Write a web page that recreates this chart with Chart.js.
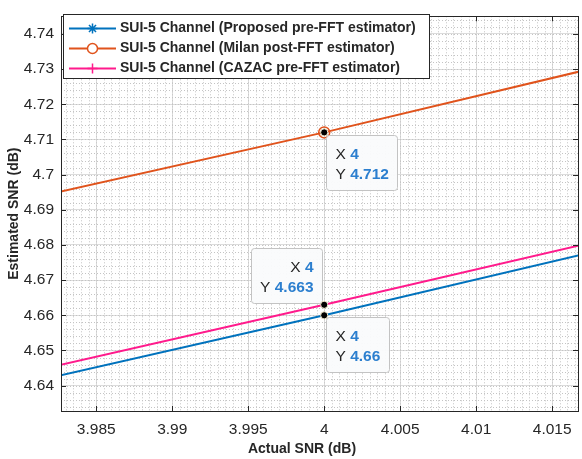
<!DOCTYPE html>
<html>
<head>
<meta charset="utf-8">
<script src="https://cdn.jsdelivr.net/npm/chart.js@4/dist/chart.umd.min.js"></script>
<style>
  html, body { margin: 0; padding: 0; background: #fff; overflow: hidden; }
  #wrap { width: 582px; height: 459px; overflow: hidden; }
</style>
</head>
<body>
<div id="wrap"><canvas id="snrChart" width="585" height="459"></canvas></div>
<script>
// SNR values around 4 dB
var snr = [3, 4, 5];
var proposedEst = [3.677, 4.66, 5.678];
var milanEst = [3.741, 4.712, 5.742];
var cazacEst = [3.680, 4.663, 5.669];

var seriesNames = [
    'SUI-5 Channel (Proposed pre-FFT estimator)',
    'SUI-5 Channel (Milan post-FFT estimator)',
    'SUI-5 Channel (CAZAC pre-FFT estimator)'
];
var seriesColors = ['#0072bd', '#e0531c', '#ff1a8c'];

var xTicks = [3.985, 3.99, 3.995, 4, 4.005, 4.01, 4.015];
var yTicks = [4.64, 4.65, 4.66, 4.67, 4.68, 4.69, 4.7, 4.71, 4.72, 4.73, 4.74];
var xRange = [3.98268, 4.0167];
var yRange = [4.6328, 4.745];

// data tips: dataset index, point index, which side of the point the box goes
var tips = [
    { ds: 1, i: 1, side: 'right', dx: 2, dy: 3 },
    { ds: 2, i: 1, side: 'left', dx: -2, dy: -2 },
    { ds: 0, i: 1, side: 'right', dx: 2, dy: 2 }
];

var FONT = '"Liberation Sans", Arial, Helvetica, sans-serif';
var AXIS_COLOR = '#262626';

function pts(ys) {
    return snr.map(function (x, k) { return { x: x, y: ys[k] }; });
}

function steps(lo, hi, step) {
    var out = [];
    var start = Math.ceil(lo / step - 1e-9);
    for (var k = start; k * step <= hi + 1e-12; k++) out.push(+(k * step).toFixed(6));
    return out;
}

function fmt(v) { return String(+v.toFixed(4)); }

var matlabBox = {
    id: 'matlabBox',
    beforeDatasetsDraw: function (chart) {
        var ctx = chart.ctx, a = chart.chartArea;
        var xs = chart.scales.x, ys = chart.scales.y;
        ctx.save();
        ctx.strokeStyle = '#c4c4c4';
        ctx.lineWidth = 1;
        ctx.setLineDash([1, 2]);
        steps(xRange[0], xRange[1], 0.0005).forEach(function (v) {
            var p = Math.round(xs.getPixelForValue(v)) + 0.5;
            ctx.beginPath(); ctx.moveTo(p, a.top); ctx.lineTo(p, a.bottom); ctx.stroke();
        });
        steps(yRange[0], yRange[1], 0.002).forEach(function (v) {
            var p = Math.round(ys.getPixelForValue(v)) + 0.5;
            ctx.beginPath(); ctx.moveTo(a.left, p); ctx.lineTo(a.right, p); ctx.stroke();
        });
        ctx.restore();
    },
    afterDatasetsDraw: function (chart) {
        var ctx = chart.ctx, a = chart.chartArea;
        var xs = chart.scales.x, ys = chart.scales.y;
        ctx.save();
        ctx.strokeStyle = AXIS_COLOR;
        ctx.lineWidth = 1;
        ctx.setLineDash([]);
        ctx.strokeRect(Math.round(a.left) + 0.5, Math.round(a.top) + 0.5,
            Math.round(a.right - a.left), Math.round(a.bottom - a.top));
        var tl = 5;
        ctx.beginPath();
        xTicks.forEach(function (v) {
            var p = Math.round(xs.getPixelForValue(v)) + 0.5;
            ctx.moveTo(p, a.bottom); ctx.lineTo(p, a.bottom - tl);
            ctx.moveTo(p, a.top); ctx.lineTo(p, a.top + tl);
        });
        yTicks.forEach(function (v) {
            var p = Math.round(ys.getPixelForValue(v)) + 0.5;
            ctx.moveTo(a.left, p); ctx.lineTo(a.left + tl, p);
            ctx.moveTo(a.right, p); ctx.lineTo(a.right - tl, p);
        });
        ctx.stroke();

        // x axis title
        ctx.fillStyle = AXIS_COLOR;
        ctx.font = 'bold 14px ' + FONT;
        ctx.textAlign = 'center';
        ctx.textBaseline = 'middle';
        ctx.fillText('Actual SNR (dB)', 302, 449);
        ctx.restore();
    },
    afterDraw: function (chart) {
        var ctx = chart.ctx;
        ctx.save();

        // data tips
        tips.forEach(function (t) {
            var el = chart.getDatasetMeta(t.ds).data[t.i];
            var raw = chart.data.datasets[t.ds].data[t.i];
            var px = el.x, py = el.y;
            ctx.font = '15.5px ' + FONT;
            var wX = ctx.measureText('X ').width, wY = ctx.measureText('Y ').width;
            ctx.font = 'bold 15.5px ' + FONT;
            var vX = fmt(raw.x), vY = fmt(raw.y);
            var textW = Math.max(wX + ctx.measureText(vX).width, wY + ctx.measureText(vY).width);
            var bw = Math.round(textW + 18), bh = 55;
            var bx = t.side === 'right' ? px + t.dx : px + t.dx - bw;
            var by = t.dy > 0 ? py + t.dy : py + t.dy - bh;
            bx = Math.round(bx) + 0.5; by = Math.round(by) + 0.5;

            ctx.fillStyle = 'rgba(250,251,252,0.97)';
            ctx.strokeStyle = '#c3c3c3';
            ctx.lineWidth = 1;
            ctx.beginPath();
            ctx.roundRect(bx, by, bw, bh, 3);
            ctx.fill(); ctx.stroke();

            var rows = [['X ', vX, by + 19], ['Y ', vY, by + 39]];
            rows.forEach(function (r) {
                ctx.font = 'bold 15.5px ' + FONT;
                var vw = ctx.measureText(r[1]).width;
                ctx.font = '15.5px ' + FONT;
                var lw = ctx.measureText(r[0]).width;
                var left = t.side === 'right' ? bx + 9 : bx + bw - 9 - lw - vw;
                ctx.textAlign = 'left';
                ctx.textBaseline = 'middle';
                ctx.fillStyle = AXIS_COLOR;
                ctx.fillText(r[0], left, r[2]);
                ctx.font = 'bold 15.5px ' + FONT;
                ctx.fillStyle = '#2c7fcf';
                ctx.fillText(r[1], left + lw, r[2]);
            });

            ctx.beginPath();
            ctx.arc(px, py, 3.6, 0, Math.PI * 2);
            ctx.fillStyle = '#000';
            ctx.fill();
            ctx.strokeStyle = '#f3ecd0';
            ctx.lineWidth = 1;
            ctx.stroke();
        });

        // legend box
        var lx = 63.5, ly = 14.5, lw = 366, lh = 64;
        ctx.fillStyle = '#fff';
        ctx.strokeStyle = AXIS_COLOR;
        ctx.lineWidth = 1;
        ctx.fillRect(lx, ly, lw, lh);
        ctx.strokeRect(lx, ly, lw, lh);
        chart.data.datasets.forEach(function (ds, k) {
            var y = 28.5 + k * 20;
            ctx.strokeStyle = ds.borderColor;
            ctx.lineWidth = 2;
            ctx.beginPath(); ctx.moveTo(69, y); ctx.lineTo(116, y); ctx.stroke();
            ctx.fillStyle = '#fff';
            ctx.strokeStyle = ds.borderColor;
            ctx.lineWidth = 1.5;
            Chart.helpers.drawPoint(ctx, {
                pointStyle: ds.pointStyle,
                radius: ds.legendRadius,
                borderWidth: 1.5,
                rotation: 0
            }, 92.5, y);
            ctx.fillStyle = AXIS_COLOR;
            ctx.font = 'bold 14px ' + FONT;
            ctx.textAlign = 'left';
            ctx.textBaseline = 'middle';
            ctx.fillText(ds.label, 120, y);
        });
        ctx.restore();
    }
};

var dt = {
    datasets: [{
        label: seriesNames[0],
        data: pts(proposedEst),
        borderColor: seriesColors[0],
        backgroundColor: seriesColors[0],
        pointStyle: 'star',
        pointRadius: 3,
        legendRadius: 5,
        borderWidth: 2
    }, {
        label: seriesNames[1],
        data: pts(milanEst),
        borderColor: seriesColors[1],
        backgroundColor: 'rgba(0,0,0,0)',
        pointStyle: 'circle',
        pointRadius: 5.5,
        pointBorderWidth: 1.5,
        legendRadius: 5,
        borderWidth: 2
    }, {
        label: seriesNames[2],
        data: pts(cazacEst),
        borderColor: seriesColors[2],
        backgroundColor: seriesColors[2],
        pointStyle: 'cross',
        pointRadius: 3,
        legendRadius: 5,
        borderWidth: 2
    }]
};

var tickFont = { family: FONT, size: 15.5 };

var config_snrChart = {
    type: 'line',
    data: dt,
    options: {
        responsive: false,
        animation: false,
        events: [],
        layout: { padding: { left: 0, top: 10, right: 1, bottom: 0 } },
        plugins: { legend: { display: false }, tooltip: { enabled: false } },
        scales: {
            x: {
                type: 'linear',
                min: xRange[0],
                max: xRange[1],
                afterBuildTicks: function (s) { s.ticks = xTicks.map(function (v) { return { value: v }; }); },
                afterFit: function (s) { s.height = 48; },
                ticks: { font: tickFont, color: AXIS_COLOR, padding: 9, maxRotation: 0, autoSkip: false,
                    callback: function (v) { return fmt(v); } },
                grid: { color: '#dcdcdc', drawTicks: false },
                border: { display: false }
            },
            y: {
                type: 'linear',
                min: yRange[0],
                max: yRange[1],
                afterBuildTicks: function (s) { s.ticks = yTicks.map(function (v) { return { value: v }; }); },
                afterFit: function (s) { s.width = 61; },
                ticks: { font: tickFont, color: AXIS_COLOR, padding: 7, autoSkip: false,
                    callback: function (v) { return fmt(v); } },
                grid: { color: '#dcdcdc', drawTicks: false },
                border: { display: false },
                title: { display: true, text: 'Estimated SNR (dB)', color: AXIS_COLOR,
                    font: { family: FONT, size: 14, weight: 'bold' }, padding: { top: 6, bottom: 0 } }
            }
        }
    },
    plugins: [matlabBox]
};

var snrChart = new Chart(document.getElementById('snrChart'), config_snrChart);
</script>
</body>
</html>
